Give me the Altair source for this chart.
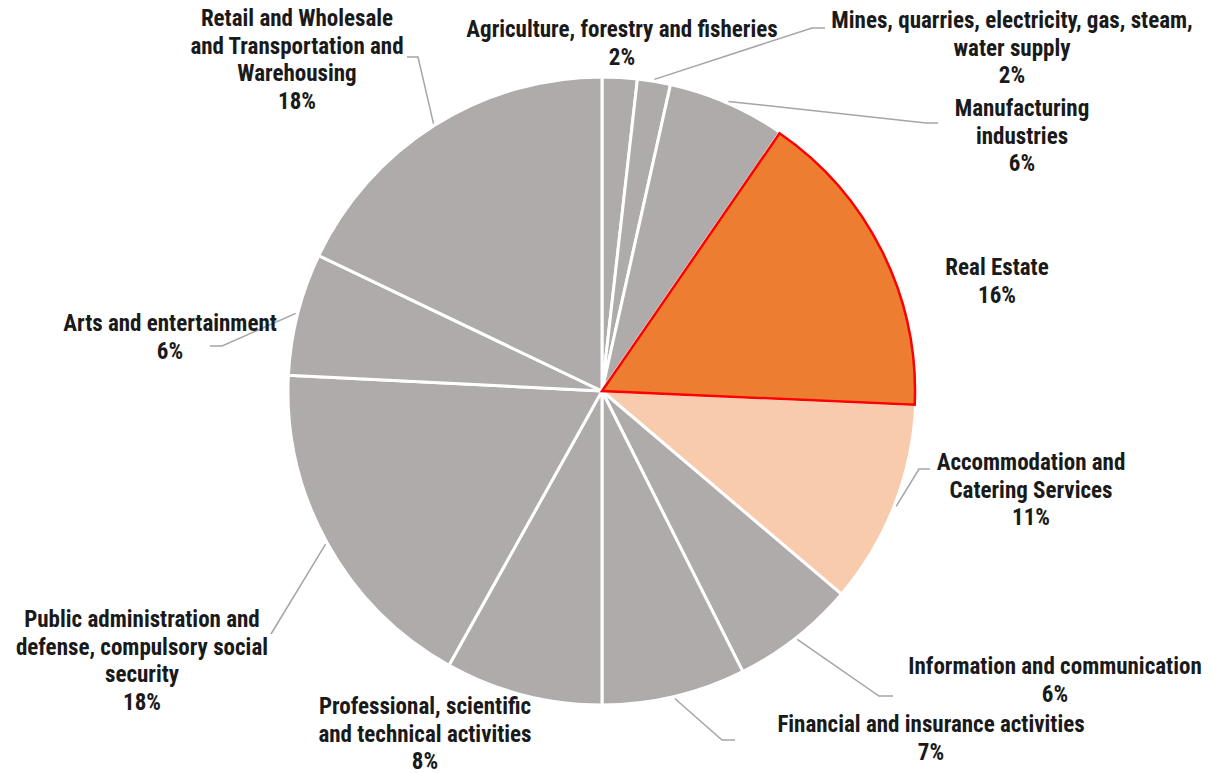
import math
import altair as alt
import pandas as pd

# ---------------- data ----------------
categories = [
    "Agriculture, forestry and fisheries",
    "Mines, quarries, electricity, gas, steam, water supply",
    "Manufacturing industries",
    "Real Estate",
    "Accommodation and Catering Services",
    "Information and communication",
    "Financial and insurance activities",
    "Professional, scientific and technical activities",
    "Public administration and defense, compulsory social security",
    "Arts and entertainment",
    "Retail and Wholesale and Transportation and Warehousing",
]
shares = [1.8, 1.7, 6.1, 16.1, 10.5, 6.4, 7.4, 8.1, 17.7, 6.3, 17.9]
share_labels = ["2%", "2%", "6%", "16%", "11%", "6%", "7%", "8%", "18%", "6%", "18%"]
label_names = [
    "Agriculture, forestry and fisheries",
    "Mines, quarries, electricity, gas, steam,\nwater supply",
    "Manufacturing\nindustries",
    "Real Estate",
    "Accommodation and\nCatering Services",
    "Information and communication",
    "Financial and insurance activities",
    "Professional, scientific\nand technical activities",
    "Public administration and\ndefense, compulsory social\nsecurity",
    "Arts and entertainment",
    "Retail and Wholesale\nand Transportation and\nWarehousing",
]

# ---------------- styles / layout ----------------
GREY = "#AEABAA"
slice_colors = [GREY, GREY, GREY, "#ED7D31", "#F8CBAD", GREY, GREY, GREY, GREY, GREY, GREY]
CX, CY, R = 602, 391, 314          # pie centre and radius (page pixels)
W, H = 1199, 765

# label first-line centres (page pixels)
label_pos = [
    (622, 30), (1012, 21), (1022, 109), (997, 268), (1031, 463), (1055, 667),
    (931, 725), (425, 707), (142, 620), (170, 324), (297, 19),
]
# leader line elbow and end points (None = no leader line)
leader_pts = [
    None,
    [(812, 28), (825, 28)],
    [(926, 123), (938, 123)],
    None,
    [(919, 469), (930, 469)],
    [(879, 696), (893, 696)],
    [(722, 740), (735, 740)],
    None,
    [(271, 634), (271, 634)],
    [(222, 346), (210, 346)],
    [(418, 57), (407, 57)],
]

FONT = "Liberation Sans Narrow, Arial Narrow, Roboto Condensed, Liberation Sans, sans-serif"

pie_df = pd.DataFrame({"idx": list(range(len(categories))), "category": categories, "share": shares})

# leader lines: start at slice mid-angle on the rim
rows = []
cum = 0.0
for i, (c, s) in enumerate(zip(categories, shares)):
    mid = (cum + s / 2) / 100 * 2 * math.pi
    cum += s
    if leader_pts[i] is None:
        continue
    pts = [(CX + (R + 2) * math.sin(mid), CY - (R + 2) * math.cos(mid))] + leader_pts[i]
    for k, (px, py) in enumerate(pts):
        rows.append({"category": c, "seq": k, "px": px, "py": py})
lines_df = pd.DataFrame(rows)

lab_df = pd.DataFrame({
    "category": categories,
    "text": [n + "\n" + p for n, p in zip(label_names, share_labels)],
    "lx": [p[0] for p in label_pos],
    "ly": [p[1] for p in label_pos],
})

xs = alt.Scale(domain=[8, 8 + W], nice=False, zero=False)
ys = alt.Scale(domain=[8, 8 + H], nice=False, zero=False, reverse=True)
ts = alt.Scale(domain=[0, 100], range=[0, 2 * math.pi])

base = alt.Chart(pie_df).transform_window(
    cum="sum(share)", sort=[alt.SortField("idx")], frame=[None, 0]
).transform_calculate(start="datum.cum - datum.share")

arcs = base.mark_arc(outerRadius=R, stroke="white", strokeWidth=3).encode(
    theta=alt.Theta("start:Q", scale=ts),
    theta2="cum:Q",
    color=alt.Color("category:N", scale=alt.Scale(domain=categories, range=slice_colors), legend=None),
    x=alt.value(CX - 8),
    y=alt.value(CY - 8),
)

highlight = base.transform_filter(alt.datum.category == "Real Estate").mark_arc(
    outerRadius=R - 1, stroke="#FF0000", strokeWidth=2.5, fill="#ED7D31"
).encode(
    theta=alt.Theta("start:Q", scale=ts),
    theta2="cum:Q",
    x=alt.value(CX - 8),
    y=alt.value(CY - 8),
)

leaders = alt.Chart(lines_df).mark_line(color="#A5A5A5", strokeWidth=1.5).encode(
    x=alt.X("px:Q", scale=xs, axis=None),
    y=alt.Y("py:Q", scale=ys, axis=None),
    detail="category:N",
    order="seq:Q",
)

labels = alt.Chart(lab_df).mark_text(
    font=FONT, fontSize=23, fontWeight="bold", color="#1A1A1A",
    align="center", baseline="middle", lineBreak="\n", lineHeight=27.5,
).encode(
    x=alt.X("lx:Q", scale=xs, axis=None),
    y=alt.Y("ly:Q", scale=ys, axis=None),
    text="text:N",
)

chart = alt.layer(arcs, highlight, leaders, labels).properties(
    width=W, height=H, padding=0, autosize=alt.AutoSizeParams(type="none")
).configure_view(stroke=None)

chart.save("out.html", embed_options={"renderer": "svg", "actions": False})
